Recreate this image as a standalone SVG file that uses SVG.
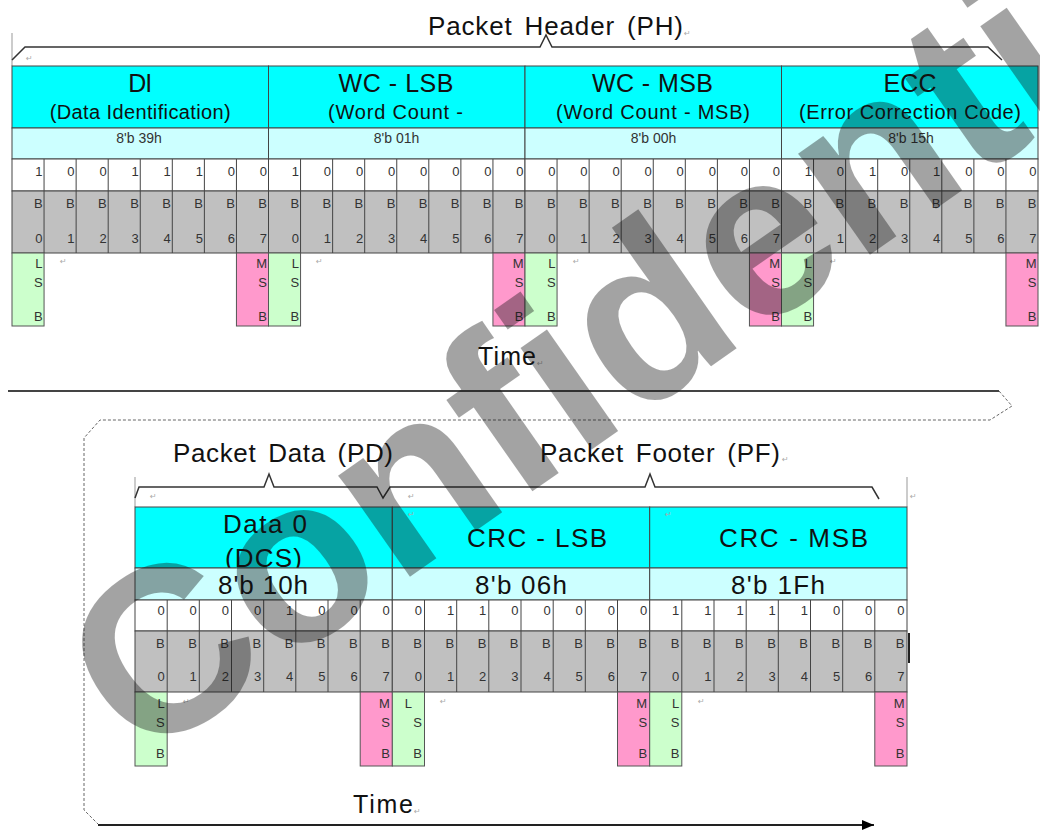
<svg xmlns="http://www.w3.org/2000/svg" width="1040" height="833" viewBox="0 0 1040 833">
<style>
text{font-family:"Liberation Sans",Arial,sans-serif;fill:#111}
.hd{fill:#00ffff;stroke:#444;stroke-width:1}
.hv{fill:#ccffff;stroke:#444;stroke-width:1}
.wb{fill:#ffffff;stroke:#444;stroke-width:1}
.gb{fill:#c0c0c0;stroke:#444;stroke-width:1}
.ls{fill:#ccffcc;stroke:#555;stroke-width:1}
.ms{fill:#ff99cc;stroke:#555;stroke-width:1}
.ln{stroke:#444;stroke-width:1;fill:none}
.t1{font-size:25px;text-anchor:middle}
.t2{font-size:20px;text-anchor:middle}
.hx{font-size:14px;text-anchor:middle;fill:#333}
.bt{font-size:26px;text-anchor:middle}
.bit{font-size:13px;text-anchor:end;fill:#333}
.lbl{font-size:26px;text-anchor:middle;word-spacing:4px}
.pm{font-family:"DejaVu Sans",sans-serif;font-size:8px;fill:#aaa}
.br{fill:none;stroke:#333;stroke-width:1.5}
.gl{stroke:#999;stroke-width:1}
.ds{fill:none;stroke:#666;stroke-width:1;stroke-dasharray:3 2}
</style>
<defs>
<marker id="arr" viewBox="0 0 12 10" refX="12" refY="5" markerWidth="12" markerHeight="10" markerUnits="userSpaceOnUse" orient="auto">
<path d="M0,0 L12,5 L0,10 z" fill="#000"/>
</marker>
<clipPath id="dcsclip"><rect x="135" y="507" width="257.3" height="61"/></clipPath>
</defs>

<g id="connectors">
<line class="gl" x1="12" y1="33" x2="12" y2="66"/>
<path class="br" d="M12,60 L25,47 L540,47 L546,35 L552,47 L988,47 L1002,60"/>
<path d="M8,391 L999,391" stroke="#444" stroke-width="2" fill="none"/>
<path class="ds" d="M999,391 L1012,406 L990,420 L100,420 L84,438 L84,810 L98,824"/>
<path d="M98,825 L874,825" stroke="#222" stroke-width="2" fill="none" marker-end="url(#arr)"/>
<line class="gl" x1="135" y1="477" x2="135" y2="507"/>
<line class="gl" x1="907" y1="477" x2="907" y2="507"/>
<path class="br" d="M135,498 L139,487 L264,487 L269,474 L274,487 L377,487 L383,498 L390,487 L645,487 L650,474 L655,487 L872,487 L879,499"/>
<line x1="909" y1="633" x2="909" y2="663" stroke="#222" stroke-width="2"/>
</g>

<g id="labels">
<text class="lbl" x="555.5" y="35" textLength="255">Packet Header (PH)</text>
<text class="pm" x="684" y="36">↵</text>
<text class="pm" x="26" y="61">↵</text>
<text x="507" y="365" font-size="25" text-anchor="middle" textLength="58">Time</text>
<text class="pm" x="537" y="366">↵</text>
<text class="lbl" x="283" y="462" textLength="220">Packet Data (PD)</text>
<text class="lbl" x="660" y="462" textLength="240">Packet Footer (PF)</text>
<text class="pm" x="782" y="462">↵</text>
<text x="383" y="813" font-size="25" text-anchor="middle" textLength="60">Time</text>
<text class="pm" x="414" y="814">↵</text>
</g>

<g id="di">
<rect class="hd" x="12" y="66" width="256.5" height="62"/>
<text class="t1" x="140.25" y="92" textLength="24">DI</text>
<text class="t2" x="140.25" y="118.5" textLength="181">(Data Identification)</text>
<rect class="hv" x="12" y="128" width="256.5" height="31"/>
<text class="hx" x="139" y="143">8'b 39h</text>
<rect class="wb" x="12" y="159" width="256.5" height="32"/>
<rect class="gb" x="12" y="191" width="256.5" height="62"/>
<path class="ln" d="M44.06,159V253M76.13,159V253M108.19,159V253M140.25,159V253M172.31,159V253M204.38,159V253M236.44,159V253"/>
<text class="bit" y="176"><tspan x="42.6">1</tspan><tspan x="74.6">0</tspan><tspan x="106.7">0</tspan><tspan x="138.8">1</tspan><tspan x="170.8">1</tspan><tspan x="202.9">1</tspan><tspan x="234.9">0</tspan><tspan x="267">0</tspan></text>
<text class="bit" y="208"><tspan x="42.6">B</tspan><tspan x="74.6">B</tspan><tspan x="106.7">B</tspan><tspan x="138.8">B</tspan><tspan x="170.8">B</tspan><tspan x="202.9">B</tspan><tspan x="234.9">B</tspan><tspan x="267">B</tspan></text>
<text class="bit" y="243"><tspan x="42.6">0</tspan><tspan x="74.6">1</tspan><tspan x="106.7">2</tspan><tspan x="138.8">3</tspan><tspan x="170.8">4</tspan><tspan x="202.9">5</tspan><tspan x="234.9">6</tspan><tspan x="267">7</tspan></text>
<rect class="ls" x="12" y="253" width="32.06" height="73"/>
<text class="bit"><tspan x="42.6" y="268">L</tspan><tspan x="42.6" y="287">S</tspan><tspan x="42.6" y="321">B</tspan></text>
<rect class="ms" x="236.44" y="253" width="32.06" height="73"/>
<text class="bit"><tspan x="267" y="268">M</tspan><tspan x="267" y="287">S</tspan><tspan x="267" y="321">B</tspan></text>
<text class="pm" x="60" y="264">↵</text>
</g>

<g id="wc-lsb">
<rect class="hd" x="268.5" y="66" width="256.5" height="62"/>
<text class="t1" x="396" y="92" textLength="115">WC - LSB</text>
<text class="t2" x="395.5" y="118.5" textLength="135">(Word Count -</text>
<rect class="hv" x="268.5" y="128" width="256.5" height="31"/>
<text class="hx" x="396.5" y="143">8'b 01h</text>
<rect class="wb" x="268.5" y="159" width="256.5" height="32"/>
<rect class="gb" x="268.5" y="191" width="256.5" height="62"/>
<path class="ln" d="M300.56,159V253M332.63,159V253M364.69,159V253M396.75,159V253M428.81,159V253M460.88,159V253M492.94,159V253"/>
<text class="bit" y="176"><tspan x="299.1">1</tspan><tspan x="331.1">0</tspan><tspan x="363.2">0</tspan><tspan x="395.3">0</tspan><tspan x="427.3">0</tspan><tspan x="459.4">0</tspan><tspan x="491.4">0</tspan><tspan x="523.5">0</tspan></text>
<text class="bit" y="208"><tspan x="299.1">B</tspan><tspan x="331.1">B</tspan><tspan x="363.2">B</tspan><tspan x="395.3">B</tspan><tspan x="427.3">B</tspan><tspan x="459.4">B</tspan><tspan x="491.4">B</tspan><tspan x="523.5">B</tspan></text>
<text class="bit" y="243"><tspan x="299.1">0</tspan><tspan x="331.1">1</tspan><tspan x="363.2">2</tspan><tspan x="395.3">3</tspan><tspan x="427.3">4</tspan><tspan x="459.4">5</tspan><tspan x="491.4">6</tspan><tspan x="523.5">7</tspan></text>
<rect class="ls" x="268.5" y="253" width="32.06" height="73"/>
<text class="bit"><tspan x="299.1" y="268">L</tspan><tspan x="299.1" y="287">S</tspan><tspan x="299.1" y="321">B</tspan></text>
<rect class="ms" x="492.94" y="253" width="32.06" height="73"/>
<text class="bit"><tspan x="523.5" y="268">M</tspan><tspan x="523.5" y="287">S</tspan><tspan x="523.5" y="321">B</tspan></text>
<text class="pm" x="316" y="264">↵</text>
</g>

<g id="wc-msb">
<rect class="hd" x="525" y="66" width="256.5" height="62"/>
<text class="t1" x="652.5" y="92" textLength="121">WC - MSB</text>
<text class="t2" x="653" y="118.5" textLength="194">(Word Count - MSB)</text>
<rect class="hv" x="525" y="128" width="256.5" height="31"/>
<text class="hx" x="653.5" y="143">8'b 00h</text>
<rect class="wb" x="525" y="159" width="256.5" height="32"/>
<rect class="gb" x="525" y="191" width="256.5" height="62"/>
<path class="ln" d="M557.06,159V253M589.13,159V253M621.19,159V253M653.25,159V253M685.31,159V253M717.38,159V253M749.44,159V253"/>
<text class="bit" y="176"><tspan x="555.6">0</tspan><tspan x="587.6">0</tspan><tspan x="619.7">0</tspan><tspan x="651.8">0</tspan><tspan x="683.8">0</tspan><tspan x="715.9">0</tspan><tspan x="747.9">0</tspan><tspan x="780">0</tspan></text>
<text class="bit" y="208"><tspan x="555.6">B</tspan><tspan x="587.6">B</tspan><tspan x="619.7">B</tspan><tspan x="651.8">B</tspan><tspan x="683.8">B</tspan><tspan x="715.9">B</tspan><tspan x="747.9">B</tspan><tspan x="780">B</tspan></text>
<text class="bit" y="243"><tspan x="555.6">0</tspan><tspan x="587.6">1</tspan><tspan x="619.7">2</tspan><tspan x="651.8">3</tspan><tspan x="683.8">4</tspan><tspan x="715.9">5</tspan><tspan x="747.9">6</tspan><tspan x="780">7</tspan></text>
<rect class="ls" x="525" y="253" width="32.06" height="73"/>
<text class="bit"><tspan x="555.6" y="268">L</tspan><tspan x="555.6" y="287">S</tspan><tspan x="555.6" y="321">B</tspan></text>
<rect class="ms" x="749.44" y="253" width="32.06" height="73"/>
<text class="bit"><tspan x="780" y="268">M</tspan><tspan x="780" y="287">S</tspan><tspan x="780" y="321">B</tspan></text>
<text class="pm" x="573" y="264">↵</text>
</g>

<g id="ecc">
<rect class="hd" x="781.5" y="66" width="256.5" height="62"/>
<text class="t1" x="910" y="92" textLength="53">ECC</text>
<text class="t2" x="910" y="118.5" textLength="222">(Error Correction Code)</text>
<rect class="hv" x="781.5" y="128" width="256.5" height="31"/>
<text class="hx" x="911" y="143">8'b 15h</text>
<rect class="wb" x="781.5" y="159" width="256.5" height="32"/>
<rect class="gb" x="781.5" y="191" width="256.5" height="62"/>
<path class="ln" d="M813.56,159V253M845.63,159V253M877.69,159V253M909.75,159V253M941.81,159V253M973.88,159V253M1005.94,159V253"/>
<text class="bit" y="176"><tspan x="812.1">1</tspan><tspan x="844.1">0</tspan><tspan x="876.2">1</tspan><tspan x="908.3">0</tspan><tspan x="940.3">1</tspan><tspan x="972.4">0</tspan><tspan x="1004.4">0</tspan><tspan x="1036.5">0</tspan></text>
<text class="bit" y="208"><tspan x="812.1">B</tspan><tspan x="844.1">B</tspan><tspan x="876.2">B</tspan><tspan x="908.3">B</tspan><tspan x="940.3">B</tspan><tspan x="972.4">B</tspan><tspan x="1004.4">B</tspan><tspan x="1036.5">B</tspan></text>
<text class="bit" y="243"><tspan x="812.1">0</tspan><tspan x="844.1">1</tspan><tspan x="876.2">2</tspan><tspan x="908.3">3</tspan><tspan x="940.3">4</tspan><tspan x="972.4">5</tspan><tspan x="1004.4">6</tspan><tspan x="1036.5">7</tspan></text>
<rect class="ls" x="781.5" y="253" width="32.06" height="73"/>
<text class="bit"><tspan x="812.1" y="268">L</tspan><tspan x="812.1" y="287">S</tspan><tspan x="812.1" y="321">B</tspan></text>
<rect class="ms" x="1005.94" y="253" width="32.06" height="73"/>
<text class="bit"><tspan x="1036.5" y="268">M</tspan><tspan x="1036.5" y="287">S</tspan><tspan x="1036.5" y="321">B</tspan></text>
<text class="pm" x="830" y="264">↵</text>
</g>

<g id="data0">
<rect class="hd" x="135" y="507" width="257.3" height="61"/>
<text class="bt" x="265" y="533" textLength="84">Data 0</text>
<text class="bt" x="263.5" y="567" textLength="77" clip-path="url(#dcsclip)">(DCS)</text>
<rect class="hv" x="135" y="568" width="257.3" height="32"/>
<text class="bt" x="263" y="594" textLength="90">8'b 10h</text>
<rect class="wb" x="135" y="600" width="257.3" height="31"/>
<rect class="gb" x="135" y="631" width="257.3" height="61"/>
<path class="ln" d="M167.2,600V692M199.3,600V692M231.5,600V692M263.7,600V692M295.8,600V692M328,600V692M360.2,600V692"/>
<text class="bit" y="615"><tspan x="164.7">0</tspan><tspan x="196.8">0</tspan><tspan x="229">0</tspan><tspan x="261.2">0</tspan><tspan x="293.3">1</tspan><tspan x="325.5">0</tspan><tspan x="357.7">0</tspan><tspan x="389.8">0</tspan></text>
<text class="bit" y="648"><tspan x="164.7">B</tspan><tspan x="196.8">B</tspan><tspan x="229">B</tspan><tspan x="261.2">B</tspan><tspan x="293.3">B</tspan><tspan x="325.5">B</tspan><tspan x="357.7">B</tspan><tspan x="389.8">B</tspan></text>
<text class="bit" y="681"><tspan x="164.7">0</tspan><tspan x="196.8">1</tspan><tspan x="229">2</tspan><tspan x="261.2">3</tspan><tspan x="293.3">4</tspan><tspan x="325.5">5</tspan><tspan x="357.7">6</tspan><tspan x="389.8">7</tspan></text>
<rect class="ls" x="135" y="692" width="32.17" height="74"/>
<text class="bit"><tspan x="164.7" y="708">L</tspan><tspan x="164.7" y="727">S</tspan><tspan x="164.7" y="758">B</tspan></text>
<rect class="ms" x="360.2" y="692" width="32.17" height="74"/>
<text class="bit"><tspan x="389.8" y="708">M</tspan><tspan x="389.8" y="727">S</tspan><tspan x="389.8" y="758">B</tspan></text>
<text class="pm" x="183" y="704">↵</text>
<text class="pm" x="150" y="499">↵</text>
</g>

<g id="crc-lsb">
<rect class="hd" x="392.3" y="507" width="257.4" height="61"/>
<text class="bt" x="537" y="547" textLength="140">CRC - LSB</text>
<rect class="hv" x="392.3" y="568" width="257.4" height="32"/>
<text class="bt" x="521" y="594" textLength="92">8'b 06h</text>
<rect class="wb" x="392.3" y="600" width="257.4" height="31"/>
<rect class="gb" x="392.3" y="631" width="257.4" height="61"/>
<path class="ln" d="M424.5,600V692M456.7,600V692M488.8,600V692M521,600V692M553.2,600V692M585.3,600V692M617.5,600V692"/>
<text class="bit" y="615"><tspan x="422">0</tspan><tspan x="454.2">1</tspan><tspan x="486.3">1</tspan><tspan x="518.5">0</tspan><tspan x="550.7">0</tspan><tspan x="582.8">0</tspan><tspan x="615">0</tspan><tspan x="647.2">0</tspan></text>
<text class="bit" y="648"><tspan x="422">B</tspan><tspan x="454.2">B</tspan><tspan x="486.3">B</tspan><tspan x="518.5">B</tspan><tspan x="550.7">B</tspan><tspan x="582.8">B</tspan><tspan x="615">B</tspan><tspan x="647.2">B</tspan></text>
<text class="bit" y="681"><tspan x="422">0</tspan><tspan x="454.2">1</tspan><tspan x="486.3">2</tspan><tspan x="518.5">3</tspan><tspan x="550.7">4</tspan><tspan x="582.8">5</tspan><tspan x="615">6</tspan><tspan x="647.2">7</tspan></text>
<rect class="ls" x="392.3" y="692" width="32.2" height="74"/>
<text class="bit"><tspan x="412" y="708">L</tspan><tspan x="422" y="727">S</tspan><tspan x="422" y="758">B</tspan></text>
<rect class="ms" x="617.5" y="692" width="32.2" height="74"/>
<text class="bit"><tspan x="647.2" y="708">M</tspan><tspan x="647.2" y="727">S</tspan><tspan x="647.2" y="758">B</tspan></text>
<text class="pm" x="440" y="704">↵</text>
<text class="pm" x="408" y="499">↵</text>
<text class="pm" x="408" y="517">↵</text>
</g>

<g id="crc-msb">
<rect class="hd" x="649.7" y="507" width="257.3" height="61"/>
<text class="bt" x="793.5" y="547" textLength="149">CRC - MSB</text>
<rect class="hv" x="649.7" y="568" width="257.3" height="32"/>
<text class="bt" x="778" y="594" textLength="94">8'b 1Fh</text>
<rect class="wb" x="649.7" y="600" width="257.3" height="31"/>
<rect class="gb" x="649.7" y="631" width="257.3" height="61"/>
<path class="ln" d="M681.8,600V692M714,600V692M746.2,600V692M778.3,600V692M810.5,600V692M842.7,600V692M874.8,600V692"/>
<text class="bit" y="615"><tspan x="679.3">1</tspan><tspan x="711.5">1</tspan><tspan x="743.7">1</tspan><tspan x="775.8">1</tspan><tspan x="808">1</tspan><tspan x="840.2">0</tspan><tspan x="872.3">0</tspan><tspan x="904.5">0</tspan></text>
<text class="bit" y="648"><tspan x="679.3">B</tspan><tspan x="711.5">B</tspan><tspan x="743.7">B</tspan><tspan x="775.8">B</tspan><tspan x="808">B</tspan><tspan x="840.2">B</tspan><tspan x="872.3">B</tspan><tspan x="904.5">B</tspan></text>
<text class="bit" y="681"><tspan x="679.3">0</tspan><tspan x="711.5">1</tspan><tspan x="743.7">2</tspan><tspan x="775.8">3</tspan><tspan x="808">4</tspan><tspan x="840.2">5</tspan><tspan x="872.3">6</tspan><tspan x="904.5">7</tspan></text>
<rect class="ls" x="649.7" y="692" width="32.1" height="74"/>
<text class="bit"><tspan x="679.3" y="708">L</tspan><tspan x="679.3" y="727">S</tspan><tspan x="679.3" y="758">B</tspan></text>
<rect class="ms" x="874.8" y="692" width="32.2" height="74"/>
<text class="bit"><tspan x="904.5" y="708">M</tspan><tspan x="904.5" y="727">S</tspan><tspan x="904.5" y="758">B</tspan></text>
<text class="pm" x="698" y="704">↵</text>
<text class="pm" x="665" y="517">↵</text>
<text class="pm" x="910" y="499">↵</text>
</g>

<g id="watermark" opacity="0.38">
<text transform="translate(140,766) rotate(-35)" font-family="Liberation Sans,Arial,sans-serif" font-weight="bold" font-size="235" fill="#000">Confidential</text>
</g>
</svg>
